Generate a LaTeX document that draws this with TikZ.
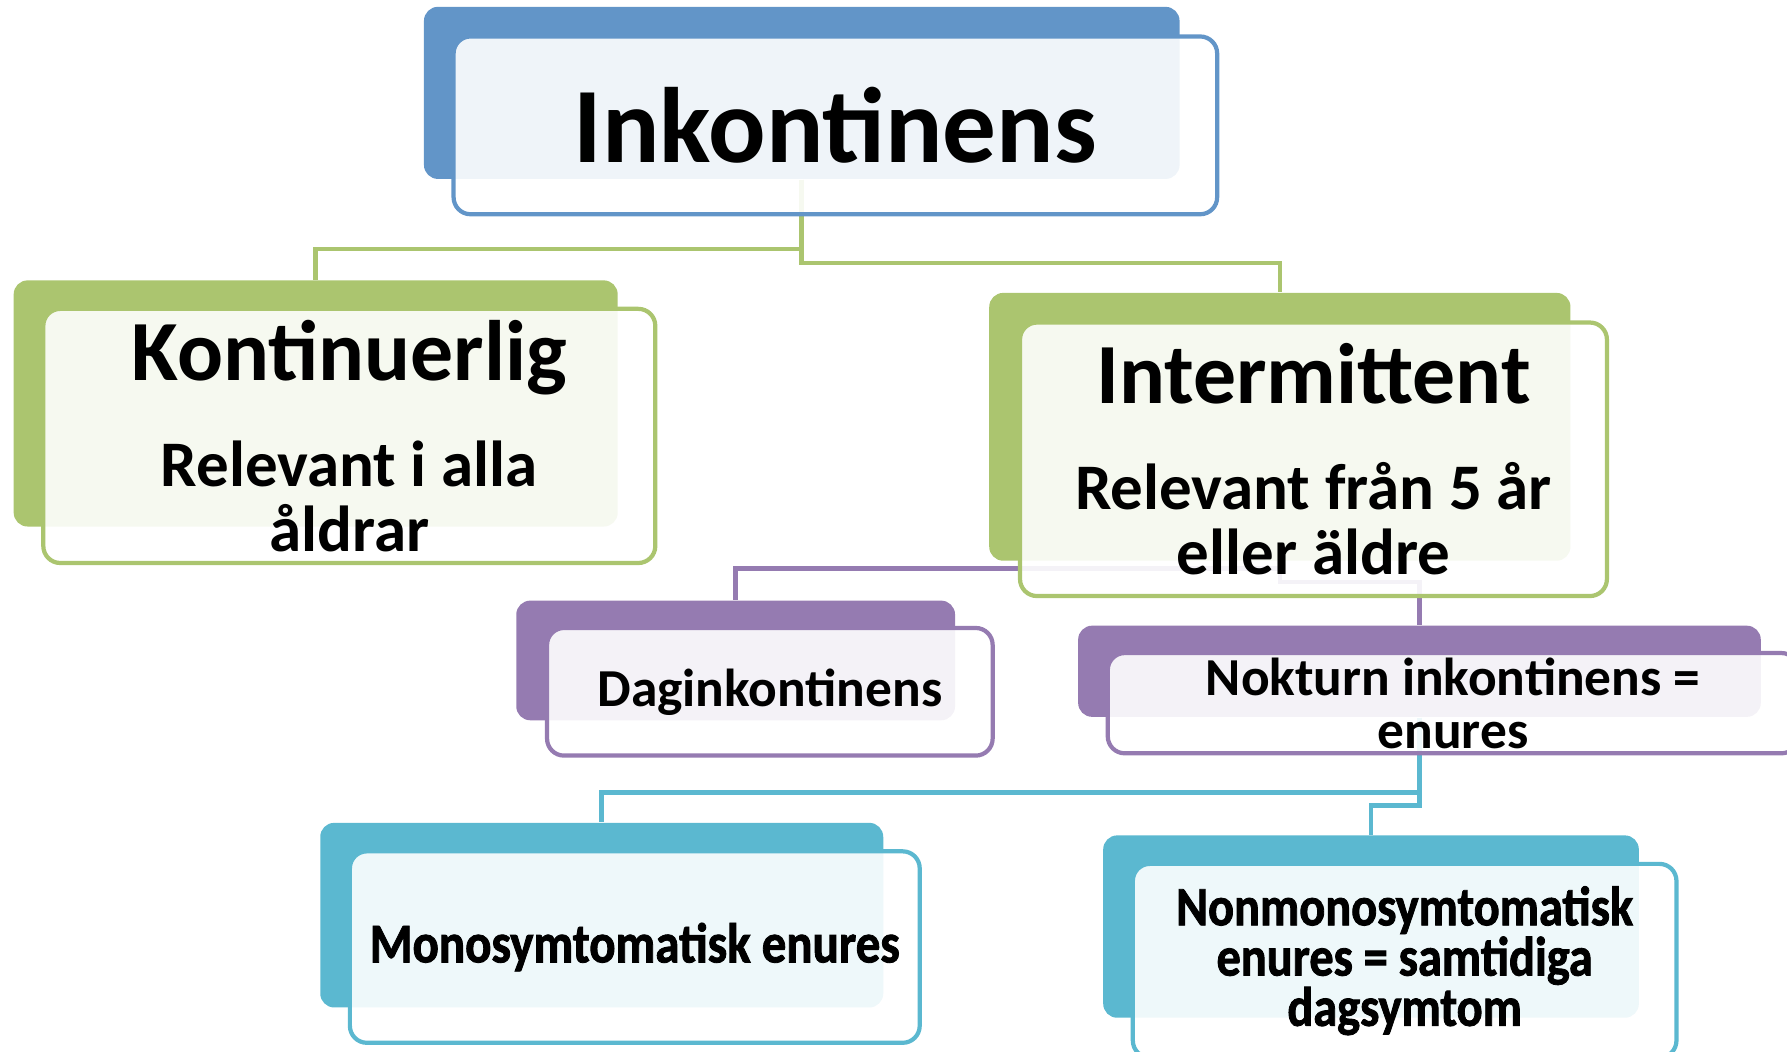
\documentclass[tikz,border=0pt]{standalone}
\usepackage{fontspec}
\setmainfont{Carlito}
\newfontfamily\heavyfont{Carlito Bold}[FakeStretch=0.87,FakeBold=1.5]
\usetikzlibrary{backgrounds}
\definecolor{white}{RGB}{255,255,255}
\definecolor{steel_blue}{RGB}{98,149,200}
\definecolor{olive_green}{RGB}{171,197,111}
\definecolor{lavender}{RGB}{149,123,177}
\definecolor{sea_cyan}{RGB}{91,184,208}
\newcommand{\pu}{0.0114cm}
\tikzset{
	box size/.style 2 args={minimum width=#1*\pu,minimum height=#2*\pu},
	backbox/.style={rounded corners=0.14cm,fill=#1,inner sep=0pt},
	frontbox/.style={rounded corners=0.17cm,draw=#1,line width=1.2pt,fill=white,fill opacity=0.9,text opacity=1,inner sep=0pt,align=center,font=\bfseries},
	link/.style={draw=#1,line width=1.3pt}
}

\begin{document}
\begin{tikzpicture}[x=\pu,y=-\pu]
	\useasboundingbox (0,0) rectangle (1568,923);
	
	% top level
	\node[backbox=steel_blue,box size={663}{151}] (ink_back) at (703.5,81.5) {};
	\node[frontbox=steel_blue,box size={670}{156}] (ink) at (733,110) {\fontsize{30.5}{36}\selectfont Inkontinens};
	
	% second level
	\node[backbox=olive_green,box size={530}{216}] (kont_back) at (277,354) {};
	\node[frontbox=olive_green,box size={537}{223},font=\bfseries\fontsize{18.5}{18.5}\selectfont] (kont) at (306.5,382.5)
		{{\fontsize{24.4}{29}\selectfont Kontinuerlig}\\[11.7pt] Relevant i alla\\ åldrar};
	\node[backbox=olive_green,box size={510}{235}] (inter_back) at (1123,374.5) {};
	\node[frontbox=olive_green,box size={515}{240},font=\bfseries\fontsize{18.5}{18.5}\selectfont] (inter) at (1152.5,403)
		{{\fontsize{24.4}{29}\selectfont Intermittent}\\[11.7pt] Relevant från 5 år\\ eller äldre};
	
	% third level
	\node[backbox=lavender,box size={385}{105}] (dag_back) at (645.5,579.5) {};
	\node[frontbox=lavender,box size={391}{112}] (dag) at (675.5,607) {\fontsize{15.2}{15.2}\selectfont Daginkontinens};
	\node[backbox=lavender,box size={599}{80}] (nok_back) at (1245.5,589) {};
	\node[frontbox=lavender,box size={606}{88},font=\bfseries\fontsize{15.2}{15.2}\selectfont] (nok) at (1275,617)
		{Nokturn inkontinens =\\ enures};
	
	% fourth level
	\node[backbox=sea_cyan,box size={494}{162}] (mono_back) at (528,803) {};
	\node[frontbox=sea_cyan,box size={500}{168},font=\heavyfont] (mono) at (557,831) {\fontsize{16}{16}\selectfont Monosymtomatisk enures};
	\node[backbox=sea_cyan,box size={470}{160}] (nonmono_back) at (1203,813) {};
	\node[frontbox=sea_cyan,box size={477}{170},font=\heavyfont\fontsize{15.8}{14.3}\selectfont] (nonmono) at (1232.5,843)
		{Nonmonosymtomatisk\\ enures = samtidiga\\ dagsymtom};
	
	\begin{scope}[on background layer]
		\draw[link=olive_green] (ink_back.south) -- ++(0,61) -| (kont_back.north);
		\draw[link=olive_green] (ink_back.south) -- ++(0,73) -| (inter_back.north);
		\draw[link=lavender] (inter_back.south) -- ++(0,6) -| (dag_back.north);
		\draw[link=lavender] (inter_back.south) -- ++(0,18) -| (nok_back.north);
		\draw[link=sea_cyan] (nok_back.south) -- ++(0,66) -| (mono_back.north);
		\draw[link=sea_cyan] (nok_back.south) -- ++(0,77) -| (nonmono_back.north);
	\end{scope}
\end{tikzpicture}
\end{document}
